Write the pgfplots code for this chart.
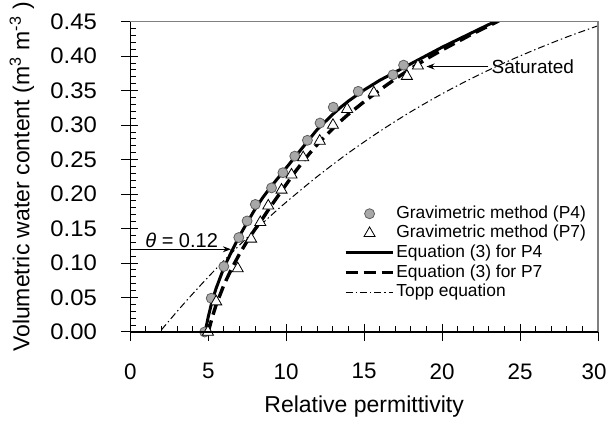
\documentclass[border=0pt]{standalone}
\usepackage{fontspec}
\setmainfont{Liberation Sans}
\newfontfamily\tickfont{Liberation Sans}[FakeStretch=1.06]
\usepackage{pgfplots}
\pgfplotsset{compat=1.18}
\usetikzlibrary{arrows.meta}
\definecolor{mkfill}{RGB}{168,168,168}
\definecolor{mkedge}{RGB}{95,95,95}
\definecolor{frame}{RGB}{128,128,128}
\pgfplotsset{/pgf/number format/assume math mode=true}
\begin{document}
\begin{tikzpicture}
\begin{axis}[
  name=ax, at={(0,0)}, anchor=south west,
  scale only axis, width=233.85pt, height=155.15pt,
  xmin=0, xmax=30, ymin=0, ymax=0.45,
  xtick={0,5,10,15,20,25,30},
  xticklabels={0,5,10,15,20,25,{\hbox to 0pt{\hss 30\kern4pt\hss}}},
  ytick={0,0.05,0.10,0.15,0.20,0.25,0.30,0.35,0.40,0.45},
  minor x tick num=4, minor y tick num=4,
  xtick pos=bottom, ytick pos=left,
  tick align=inside,
  major tick length=4pt, minor tick length=3pt,
  extra x ticks={0,5,10,15,20,25,30},
  extra y ticks={0,0.05,0.10,0.15,0.20,0.25,0.30,0.35,0.40,0.45},
  extra x tick labels={}, extra y tick labels={},
  extra tick style={tick align=outside, major tick length=4.5pt},
  every tick/.style={black, line width=0.5pt},
  axis line style={draw=none},
  yticklabel={\pgfmathprintnumber[fixed,fixed zerofill,precision=2]{\tick}},
  xticklabel style={font=\fontsize{11.2}{13}\selectfont, yshift=-12.2pt},
  yticklabel style={font=\tickfont\fontsize{11.25}{13}\selectfont, xshift=-13.2pt},
  xlabel={Relative permittivity},
  ylabel={Volumetric water content (m\textsuperscript{3} m\textsuperscript{-3} )},
  label style={font=\fontsize{11.5}{13}\selectfont},
  xlabel style={at={(axis description cs:0.5,0)}, anchor=center, yshift=-37.2pt},
  ylabel style={at={(axis description cs:-0.2318,0.5)}, anchor=center},
  clip mode=individual,
  legend style={draw=none, fill=none, at={(rel axis cs:0.456,0.414)}, anchor=north west,
    font=\fontsize{8.7}{9}\selectfont, inner sep=0pt, row sep=0pt,
    nodes={inner sep=0.6pt, text height=6.6pt, text depth=2pt}},
  legend cell align=left,
  legend image code/.code={\draw[mark repeat=2,mark phase=2,#1] plot coordinates {(0cm,0cm) (0.42cm,0cm) (0.84cm,0cm)};},
]
\addlegendimage{only marks, mark=*, mark size=2.5pt, mark options={fill=mkfill, draw=mkedge, line width=0.4pt}}
\addlegendentry{Gravimetric method (P4)}
\addlegendimage{only marks, mark=triangle*, mark size=3.2pt, mark options={fill=white, draw=black, line width=0.4pt}}
\addlegendentry{Gravimetric method (P7)}
\addlegendimage{black, line width=1.5pt}
\addlegendentry{Equation (3) for P4}
\addlegendimage{black, line width=1.7pt, dash pattern=on 6pt off 3pt}
\addlegendentry{Equation (3) for P7}
\addlegendimage{black, line width=0.5pt, dash pattern=on 3.5pt off 1.5pt on 0.7pt off 1.5pt}
\addlegendentry{Topp equation}

% Topp equation
\addplot[forget plot, black, line width=0.5pt, dash pattern=on 3.5pt off 1.5pt on 0.7pt off 1.5pt, smooth] coordinates {
(2,0.0032) (3,0.0298) (4,0.0553) (5,0.0798) (6,0.1033) (7,0.1259) (8,0.1476) (9,0.1684)
(10,0.1883) (12,0.2256) (14,0.2598) (16,0.2910) (18,0.3195) (20,0.3454) (22,0.3690)
(24,0.3904) (26,0.4098) (28,0.4278) (30,0.4441)};

% Equation (3) for P4
\addplot[forget plot, black, line width=1.5pt] coordinates {
(4.80,0.000) (5.00,0.022) (5.25,0.045) (5.50,0.063) (6.00,0.093) (6.50,0.117) (7.00,0.139)
(7.50,0.159) (8.00,0.178) (8.50,0.195) (9.00,0.210) (9.50,0.224) (10.0,0.238) (10.5,0.252)
(11.0,0.266) (11.5,0.280) (12.0,0.294) (12.5,0.305) (13.0,0.316) (13.5,0.326) (14.0,0.335)
(15.0,0.351) (16.0,0.365) (17.0,0.377) (18.0,0.389) (19.0,0.401) (20.0,0.413) (21.0,0.424)
(22.0,0.435) (23.0,0.446) (23.6,0.452)};

% Equation (3) for P7
\addplot[forget plot, black, line width=1.7pt, dash pattern=on 6pt off 3pt] coordinates {
(5.00,0.000) (5.25,0.021) (5.50,0.039) (6.00,0.068) (6.50,0.092) (7.00,0.113) (7.50,0.132)
(8.00,0.149) (8.50,0.165) (9.00,0.182) (9.50,0.198) (10.0,0.214) (10.5,0.230) (11.0,0.245)
(11.5,0.259) (12.0,0.272) (12.5,0.284) (13.0,0.295) (13.5,0.306) (14.0,0.316) (15.0,0.334)
(16.0,0.351) (17.0,0.367) (18.0,0.382) (19.0,0.396) (20.0,0.409) (21.0,0.421) (22.0,0.433)
(23.0,0.444) (23.7,0.452)};

% Gravimetric P4
\addplot[forget plot, only marks, mark=*, mark size=2.5pt, mark options={fill=mkfill, draw=mkedge, line width=0.4pt}] coordinates {
(4.77,0.000) (5.19,0.049) (6.00,0.095) (6.96,0.137) (7.49,0.161) (8.02,0.185) (9.06,0.209)
(9.79,0.231) (10.55,0.255) (11.36,0.278) (12.17,0.303) (13.02,0.326) (14.62,0.349)
(16.85,0.373) (17.53,0.387)};

% Gravimetric P7
\addplot[forget plot, only marks, mark=triangle*, mark size=3.2pt, mark options={fill=white, draw=black, line width=0.4pt}] coordinates {
(4.98,0.000) (5.51,0.044) (6.89,0.092) (7.75,0.135) (8.34,0.159) (8.85,0.183) (9.70,0.206)
(10.34,0.228) (11.09,0.253) (12.15,0.277) (13.00,0.300) (13.91,0.323) (15.62,0.347)
(17.74,0.371) (18.45,0.386)};

% annotations
\draw[black, line width=0.5pt, -{Stealth[length=4pt,width=3pt]}] (axis cs:0.3,0.12) -- (axis cs:6.45,0.12);
\node[anchor=base west, inner sep=0pt, font=\fontsize{10}{12}\selectfont] at (axis cs:0.94,0.1225) {\textit{θ} = 0.12};
\draw[black, line width=0.5pt, -{Stealth[length=4pt,width=3pt]}] (axis cs:22.95,0.385) -- (axis cs:19.0,0.385);
\node[anchor=west, inner sep=0pt, font=\fontsize{9.5}{11}\selectfont] at (axis cs:23.15,0.385) {Saturated};
\end{axis}
\draw[frame, line width=0.8pt] (ax.north west) -- (ax.north east) -- (ax.south east);
\draw[black, line width=0.7pt] (ax.north west) -- (ax.south west) -- (ax.south east);
\pgfresetboundingbox
\useasboundingbox (-65.15pt,-47pt) rectangle (239.35pt,166pt);
\end{tikzpicture}
\end{document}
